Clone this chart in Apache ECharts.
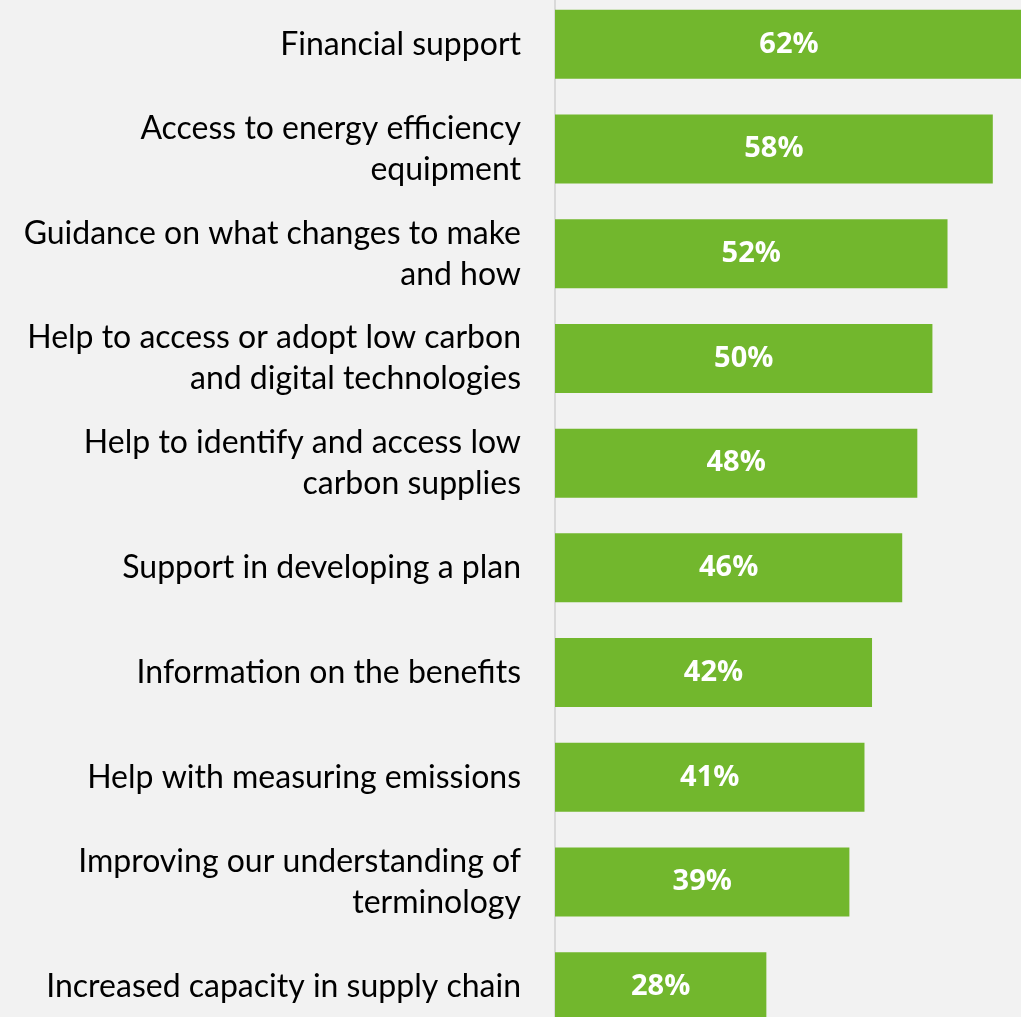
<!DOCTYPE html>
<html>
<head>
<meta charset="utf-8">
<script src="https://cdn.jsdelivr.net/npm/echarts@6/dist/echarts.min.js"></script>
<style>
  html, body { margin: 0; padding: 0; background: #f2f2f2; overflow: hidden; }
  #wrap { position: relative; width: 1021px; height: 1017px; overflow: hidden; }
  #chart { position: absolute; left: 0; top: -8px; width: 1030px; height: 1047px; }
</style>
</head>
<body>
<div id="wrap"><div id="chart"></div></div>
<script>
// Types of support businesses would find useful (share of respondents, %)
const categories = [
  'Financial support',
  'Access to energy efficiency\nequipment',
  'Guidance on what changes to make\nand how',
  'Help to access or adopt low carbon\nand digital technologies',
  'Help to identify and access low\ncarbon supplies',
  'Support in developing a plan',
  'Information on the benefits',
  'Help with measuring emissions',
  'Improving our understanding of\nterminology',
  'Increased capacity in supply chain'
];
const shares = [62, 58, 52, 50, 48, 46, 42, 41, 39, 28];

const chart = echarts.init(document.getElementById('chart'));
chart.setOption({
  backgroundColor: '#f2f2f2',
  animation: false,
  grid: { left: 555, top: 0, width: 468, height: 1047, containLabel: false },
  xAxis: {
    type: 'value', min: 0, max: 62,
    show: false
  },
  yAxis: {
    type: 'category',
    data: categories,
    inverse: true,
    axisLine: { show: true, lineStyle: { color: '#d9d9d9', width: 2 } },
    axisTick: { show: false },
    axisLabel: {
      margin: 34,
      color: '#000000',
      fontFamily: 'Lato',
      fontSize: 32,
      lineHeight: 41,
      align: 'right'
    }
  },
  series: [{
    type: 'bar',
    data: shares,
    barWidth: 69,
    itemStyle: { color: '#72b72d' },
    label: {
      show: true,
      position: 'inside',
      formatter: '{c}%',
      color: '#ffffff',
      fontFamily: 'Open Sans',
      fontWeight: 'bold',
      fontSize: 29
    }
  }]
});
</script>
</body>
</html>
